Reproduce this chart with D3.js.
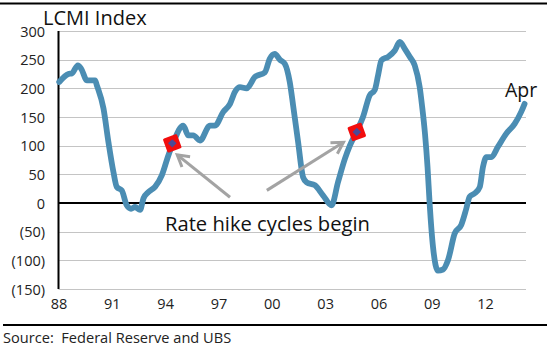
<!DOCTYPE html>
<html>
<head>
<meta charset="utf-8">
<script src="https://cdn.jsdelivr.net/npm/d3@7/dist/d3.min.js"></script>
<style>
  html, body { margin: 0; padding: 0; background: #fff; }
  svg { display: block; font-family: "Open Sans", "Noto Sans", sans-serif; }
</style>
</head>
<body>
<svg id="chart" width="550" height="347"></svg>
<script>
// ---- Data (decimal year, LCMI index value) ----
const dates = [1988.04, 1988.56, 1988.75, 1989.09, 1989.28, 1989.60, 1990.06, 1990.16, 1990.53, 1990.81,
  1991.09, 1991.28, 1991.56, 1991.84, 1992.08, 1992.31, 1992.59, 1992.78, 1993.06, 1993.43,
  1993.81, 1994.18, 1994.44, 1995.02, 1995.30, 1995.58, 1995.96, 1996.52, 1996.80, 1997.27,
  1997.65, 1997.93, 1998.21, 1998.58, 1999.05, 1999.61, 1999.89, 2000.17, 2000.45, 2000.73,
  2001.01, 2001.20, 2001.48, 2001.76, 2001.96, 2002.42, 2002.89, 2003.36, 2003.73, 2004.11,
  2004.39, 2004.76, 2005.13, 2005.51, 2005.79, 2005.98, 2006.17, 2006.54, 2006.92, 2007.20,
  2007.50, 2007.76, 2008.04, 2008.32, 2008.45, 2008.62, 2008.76, 2008.88, 2009.07, 2009.35,
  2009.63, 2009.91, 2010.29, 2010.66, 2010.94, 2011.13, 2011.42, 2011.70, 2011.88, 2012.07,
  2012.35, 2012.72, 2013.19, 2013.66, 2014.03, 2014.22];
const lcmi = [211, 225, 226, 240, 234, 214, 214, 205, 165, 106,
  54, 28, 22, -4, -10, -7, -12, 8, 19, 28,
  48, 83, 104, 135, 118, 118, 109, 135, 135, 159,
  173, 194, 202, 200, 220, 228, 252, 260, 250, 243,
  211, 170, 106, 45, 36, 31, 13, -4, 37, 77,
  100, 124, 150, 188, 197, 223, 249, 255, 266, 281,
  268, 255, 240, 202, 170, 120, 63, -1, -77, -118,
  -116, -100, -53, -38, -10, 11, 17, 28, 63, 80,
  80, 98, 121, 138, 159, 173];

// Rate hike cycle starts (marked points)
const hikeDates = [1994.4, 2004.78];
const hikeValues = [104, 124];

// Tick labels
const xTickYears = [1988, 1991, 1994, 1997, 2000, 2003, 2006, 2009, 2012];
const xTickLabels = ["88", "91", "94", "97", "00", "03", "06", "09", "12"];
const yTickValues = [300, 250, 200, 150, 100, 50, 0, -50, -100, -150];
const yTickLabels = ["300", "250", "200", "150", "100", "50", "0", "(50)", "(100)", "(150)"];

// Annotation arrows: [tailYear, tailValue], [tipYear, tipValue]
const arrowTails = [[1997.65, 10], [1999.72, 22]];
const arrowTips = [[1994.68, 84], [2004.03, 106]];

const titleText = "LCMI Index";
const endLabel = "Apr";
const annotationText = "Rate hike cycles begin";
const sourceText = "Source:  Federal Reserve and UBS";

// ---- Drawing ----
const svg = d3.select("#chart");
const x = d3.scaleLinear().domain([1988, 2014.3]).range([58.5, 526]);
const y = d3.scaleLinear().domain([-150, 300]).range([289, 31]);

// top and bottom rules
svg.append("line").attr("x1", 0).attr("x2", 547).attr("y1", 3.5).attr("y2", 3.5)
  .attr("stroke", "#000").attr("stroke-width", 2);
svg.append("line").attr("x1", 3).attr("x2", 547).attr("y1", 325).attr("y2", 325)
  .attr("stroke", "#000").attr("stroke-width", 2);

// gridlines
svg.append("g").selectAll("line").data(yTickValues.filter(v => v !== 0)).join("line")
  .attr("x1", x(1988)).attr("x2", x(2014.3))
  .attr("y1", d => Math.round(y(d)) + 0.5).attr("y2", d => Math.round(y(d)) + 0.5)
  .attr("stroke", "#c4c4c4").attr("stroke-width", 1.2);

// y axis labels via d3 axis
const yAxis = d3.axisLeft(y).tickValues(yTickValues)
  .tickFormat((d, i) => yTickLabels[i]).tickSize(0).tickPadding(0);
const gy = svg.append("g").attr("transform", "translate(45,0)").call(yAxis);
gy.select(".domain").remove();
gy.selectAll("text").attr("font-size", 14.5).attr("fill", "#222")
  .attr("font-family", "'Open Sans', sans-serif").attr("dy", "0.36em");

// x axis labels via d3 axis
const xAxis = d3.axisBottom(x).tickValues(xTickYears)
  .tickFormat((d, i) => xTickLabels[i]).tickSize(0).tickPadding(0);
const gx = svg.append("g").attr("transform", "translate(0,299)").call(xAxis);
gx.select(".domain").remove();
gx.selectAll("text").attr("font-size", 14.5).attr("fill", "#222")
  .attr("font-family", "'Open Sans', sans-serif");

// zero line
svg.append("line").attr("x1", x(1988)).attr("x2", x(2014.3))
  .attr("y1", y(0)).attr("y2", y(0)).attr("stroke", "#000").attr("stroke-width", 2);
// y axis line
svg.append("line").attr("x1", x(1988)).attr("x2", x(1988))
  .attr("y1", y(300)).attr("y2", y(-150)).attr("stroke", "#000").attr("stroke-width", 2);

// main line
const pts = dates.map((d, i) => [d, lcmi[i]]);
const line = d3.line().x(d => x(d[0])).y(d => y(d[1])).curve(d3.curveMonotoneX);
svg.append("path").datum(pts).attr("d", line)
  .attr("fill", "none").attr("stroke", "#4b8db3").attr("stroke-width", 5.8)
  .attr("stroke-linejoin", "round").attr("stroke-linecap", "round");

// hike markers
const mk = svg.append("g").selectAll("g").data(hikeDates).join("g")
  .attr("transform", (d, i) => `translate(${x(d)},${y(hikeValues[i])})`);
mk.append("rect").attr("x", -7.5).attr("y", -7.5).attr("width", 15).attr("height", 15)
  .attr("rx", 1.5).attr("fill", "#f20d0d").attr("transform", "rotate(-20)");
mk.append("rect").attr("x", -3).attr("y", -3).attr("width", 6).attr("height", 6)
  .attr("fill", "#4a4a96").attr("transform", "rotate(45)");

// arrows
const arrows = svg.append("g").attr("stroke", "#a3a3a3").attr("stroke-width", 3)
  .attr("fill", "none").attr("stroke-linecap", "butt");
arrowTails.forEach((t, i) => {
  const x1 = x(t[0]), y1 = y(t[1]);
  const x2 = x(arrowTips[i][0]), y2 = y(arrowTips[i][1]);
  const ang = Math.atan2(y2 - y1, x2 - x1);
  const L = 13, spread = Math.PI / 6;
  arrows.append("line").attr("x1", x1).attr("y1", y1).attr("x2", x2).attr("y2", y2);
  const p1 = [x2 - L * Math.cos(ang - spread), y2 - L * Math.sin(ang - spread)];
  const p2 = [x2 - L * Math.cos(ang + spread), y2 - L * Math.sin(ang + spread)];
  arrows.append("path").attr("d", `M${p1[0]},${p1[1]}L${x2},${y2}L${p2[0]},${p2[1]}`)
    .attr("stroke-linejoin", "miter");
});

// texts
svg.append("text").attr("x", 43).attr("y", 25).attr("font-size", 20).attr("fill", "#111")
  .text(titleText);
svg.append("text").attr("x", 505).attr("y", 97).attr("font-size", 19.5).attr("fill", "#111")
  .text(endLabel);
svg.append("text").attr("x", 165).attr("y", 231).attr("font-size", 20.2).attr("fill", "#111")
  .text(annotationText);
svg.append("text").attr("x", 3).attr("y", 343).attr("font-size", 14.6).attr("fill", "#222")
  .style("white-space", "pre")
  .text(sourceText);
</script>
</body>
</html>
